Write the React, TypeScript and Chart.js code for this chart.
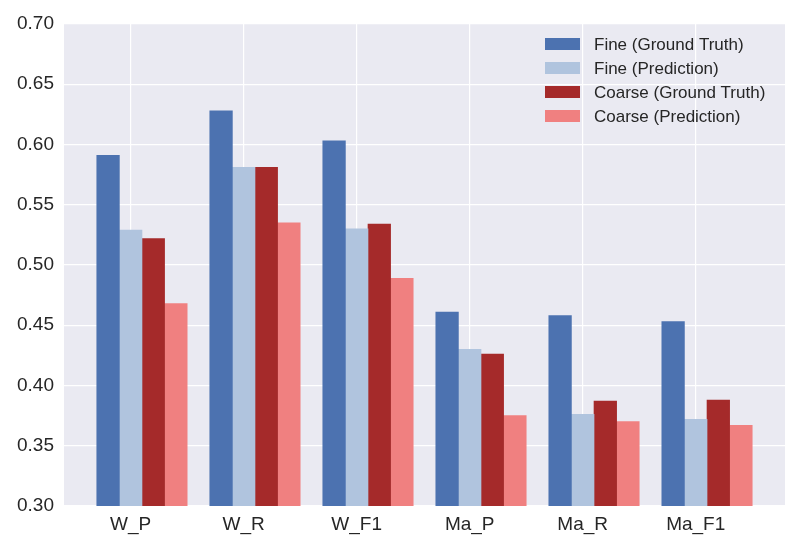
import React, { useEffect, useRef } from 'react';
import Chart from 'chart.js/auto';

const categories = ['W_P', 'W_R', 'W_F1', 'Ma_P', 'Ma_R', 'Ma_F1'];
const seriesLabels = ['Fine (Ground Truth)', 'Fine (Prediction)', 'Coarse (Ground Truth)', 'Coarse (Prediction)'];
const seriesColors = ['#4C72B0', '#B0C4DE', '#A52A2A', '#F08080'];

const fineTruth = [0.591, 0.628, 0.603, 0.461, 0.458, 0.453];
const finePrediction = [0.529, 0.581, 0.530, 0.430, 0.376, 0.372];
const coarseTruth = [0.522, 0.581, 0.534, 0.426, 0.387, 0.388];
const coarsePrediction = [0.468, 0.535, 0.489, 0.375, 0.370, 0.367];

const yTicks = [0.30, 0.35, 0.40, 0.45, 0.50, 0.55, 0.60, 0.65, 0.70];

const TEXT = '#262626';
const FONT = "'Liberation Sans', Arial, sans-serif";
const BAR_W = 0.2;

// seaborn darkgrid panel
const panelBackground = {
  id: 'panelBackground',
  beforeDraw(chart: any) {
    const { ctx, chartArea } = chart;
    ctx.save();
    ctx.fillStyle = '#EAEAF2';
    ctx.fillRect(chartArea.left, chartArea.top, chartArea.right - chartArea.left, chartArea.bottom - chartArea.top);
    ctx.restore();
  }
};

// legend drawn inside the upper right of the plot
const insideLegend = {
  id: 'insideLegend',
  afterDraw(chart: any) {
    const { ctx, chartArea } = chart;
    const x0 = chartArea.right - 240;
    ctx.save();
    ctx.font = `17px ${FONT}`;
    ctx.textBaseline = 'middle';
    ctx.textAlign = 'left';
    chart.data.datasets.forEach((ds: any, i: number) => {
      const cy = chartArea.top + 20 + i * 24;
      ctx.fillStyle = ds.backgroundColor;
      ctx.fillRect(x0, cy - 6, 35, 12);
      ctx.fillStyle = TEXT;
      ctx.fillText(ds.label, x0 + 49, cy + 1);
    });
    ctx.restore();
  }
};

const App: React.FC = () => {
  const canvasRef = useRef<HTMLCanvasElement>(null);

  useEffect(() => {
    document.body.style.margin = '0';
    if (!canvasRef.current) return;

    const series = [fineTruth, finePrediction, coarseTruth, coarsePrediction];
    const dataMin = -BAR_W - BAR_W / 2;
    const dataMax = categories.length - 1 + 2 * BAR_W + BAR_W / 2;
    const margin = 0.05 * (dataMax - dataMin);

    const chart = new Chart(canvasRef.current, {
      type: 'bar',
      data: {
        datasets: series.map((values, d) => ({
          label: seriesLabels[d],
          data: values.map((v, i) => ({ x: i + (d - 1) * BAR_W, y: v })),
          backgroundColor: seriesColors[d],
          borderWidth: 0,
          grouped: false,
          barPercentage: 1,
          categoryPercentage: 1
        }))
      },
      options: {
        responsive: false,
        animation: false,
        layout: { padding: { left: 0, right: 15, top: 24, bottom: 0 } },
        plugins: {
          legend: { display: false },
          tooltip: { enabled: false }
        },
        scales: {
          x: {
            type: 'linear',
            offset: false,
            min: dataMin - margin,
            max: dataMax + margin,
            afterBuildTicks: (s: any) => {
              s.ticks = categories.map((_, i) => ({ value: i }));
            },
            afterFit: (s: any) => {
              s.height = 44;
              s.paddingLeft = 0;
              s.paddingRight = 0;
            },
            grid: { color: '#FFFFFF', lineWidth: 1.2, drawTicks: false, offset: false },
            border: { display: false },
            ticks: {
              color: TEXT,
              font: { family: FONT, size: 19 },
              padding: 7,
              autoSkip: false,
              maxRotation: 0,
              callback: (v: any) => categories[Math.round(Number(v))]
            }
          },
          y: {
            type: 'linear',
            min: yTicks[0],
            max: yTicks[yTicks.length - 1],
            afterBuildTicks: (s: any) => {
              s.ticks = yTicks.map(v => ({ value: v }));
            },
            afterFit: (s: any) => {
              s.width = 64;
              s.paddingTop = 0;
              s.paddingBottom = 0;
            },
            grid: { color: '#FFFFFF', lineWidth: 1.2, drawTicks: false },
            border: { display: false },
            ticks: {
              color: TEXT,
              font: { family: FONT, size: 19 },
              padding: 10,
              callback: (v: any) => Number(v).toFixed(2)
            }
          }
        }
      },
      plugins: [panelBackground, insideLegend]
    });

    return () => {
      chart.destroy();
    };
  }, []);

  return (
    <div style={{ width: 800, height: 550, background: '#FFFFFF' }}>
      <canvas ref={canvasRef} width={800} height={550}></canvas>
    </div>
  );
};

export default App;
